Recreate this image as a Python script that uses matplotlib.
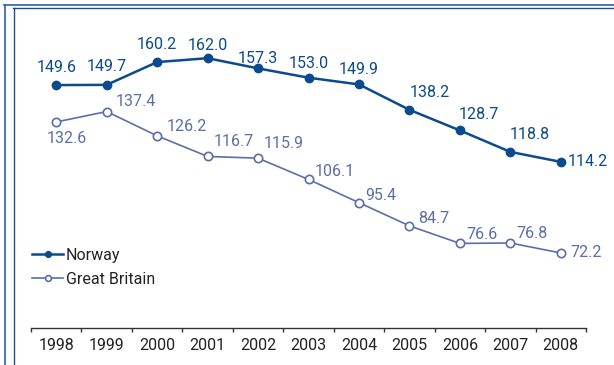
import numpy as np
import matplotlib.pyplot as plt
from matplotlib.lines import Line2D

# data
years = [1998, 1999, 2000, 2001, 2002, 2003, 2004, 2005, 2006, 2007, 2008]
norway = [149.6, 149.7, 160.2, 162.0, 157.3, 153.0, 149.9, 138.2, 128.7, 118.8, 114.2]
britain = [132.6, 137.4, 126.2, 116.7, 115.9, 106.1, 95.4, 84.7, 76.6, 76.8, 72.2]

# label offsets in pixels (dx, dy) from each point
norway_off = [(0, 18), (0, 18), (0, 18), (0, 13), (0, 10), (0, 14), (0, 15), (20, 17), (19, 16), (19, 17), (27, 0)]
britain_off = [(11, -17), (29, 10), (30, 9), (26, 15), (26, 15), (26, 8), (22, 7), (24, 7), (22, 9), (22, 9), (25, 0)]

plt.rcParams['font.family'] = ['Roboto', 'DejaVu Sans']
fs = 11.5

dark = '#0b4a8e'
light = '#5b6ea9'

fig = plt.figure(figsize=(6.14, 3.65), dpi=100)
ax = fig.add_axes([31/614, 37/365, 555/614, 321/365])

ax.plot(years, norway, color=dark, lw=1.8, marker='o', ms=6,
        mfc=dark, mec=dark, label='Norway')
ax.plot(years, britain, color=light, lw=1.2, marker='o', ms=6,
        mfc='white', mec=light, mew=1.2, label='Great Britain')

for x, v, (dx, dy) in zip(years, norway, norway_off):
    ax.annotate(f"{v:.1f}", (x, v), xytext=(dx, dy), textcoords='offset pixels',
                ha='center', va='center', color=dark, fontsize=fs)
for x, v, (dx, dy) in zip(years, britain, britain_off):
    ax.annotate(f"{v:.1f}", (x, v), xytext=(dx, dy), textcoords='offset pixels',
                ha='center', va='center', color=light, fontsize=fs)

ax.set_xlim(1997.5, 2008.5)
ax.set_ylim(37.6, 185.6)
ax.set_xticks(years)
ax.set_xticklabels([str(y) for y in years], fontsize=fs, color='#222222')
ax.set_xticks(np.arange(1997.5, 2009, 1), minor=True)
ax.tick_params(axis='x', which='major', length=0, pad=7)
ax.tick_params(axis='x', which='minor', length=3, width=1, color='#333333', direction='out')
ax.set_yticks([])
for s in ['top', 'left', 'right']:
    ax.spines[s].set_visible(False)
ax.spines['bottom'].set_color('#333333')
ax.spines['bottom'].set_linewidth(1)
ax.patch.set_alpha(0)

leg = ax.legend(loc='upper left', bbox_to_anchor=(-0.009, 0.27), frameon=False,
                fontsize=fs, handlelength=1.9, handletextpad=0.2,
                labelspacing=0.55, borderaxespad=0, markerscale=0.7)
for t in leg.get_texts():
    t.set_color('#222222')

# frame lines around the panel
W, H = 614, 365
fig.add_artist(Line2D([4.5/W, 4.5/W], [0, 1 - 5/H], color='#2a62ad', lw=1.2))
fig.add_artist(Line2D([4/W, 1], [1 - 5/H, 1 - 5/H], color='#2a62ad', lw=1.2))
fig.add_artist(Line2D([13.5/W, 13.5/W], [0, 1 - 7.5/H], color='#1f4e8c', lw=1))
fig.add_artist(Line2D([13/W, 1], [1 - 7.5/H, 1 - 7.5/H], color='#1f4e8c', lw=1))

fig.savefig('out.png', dpi=100)
